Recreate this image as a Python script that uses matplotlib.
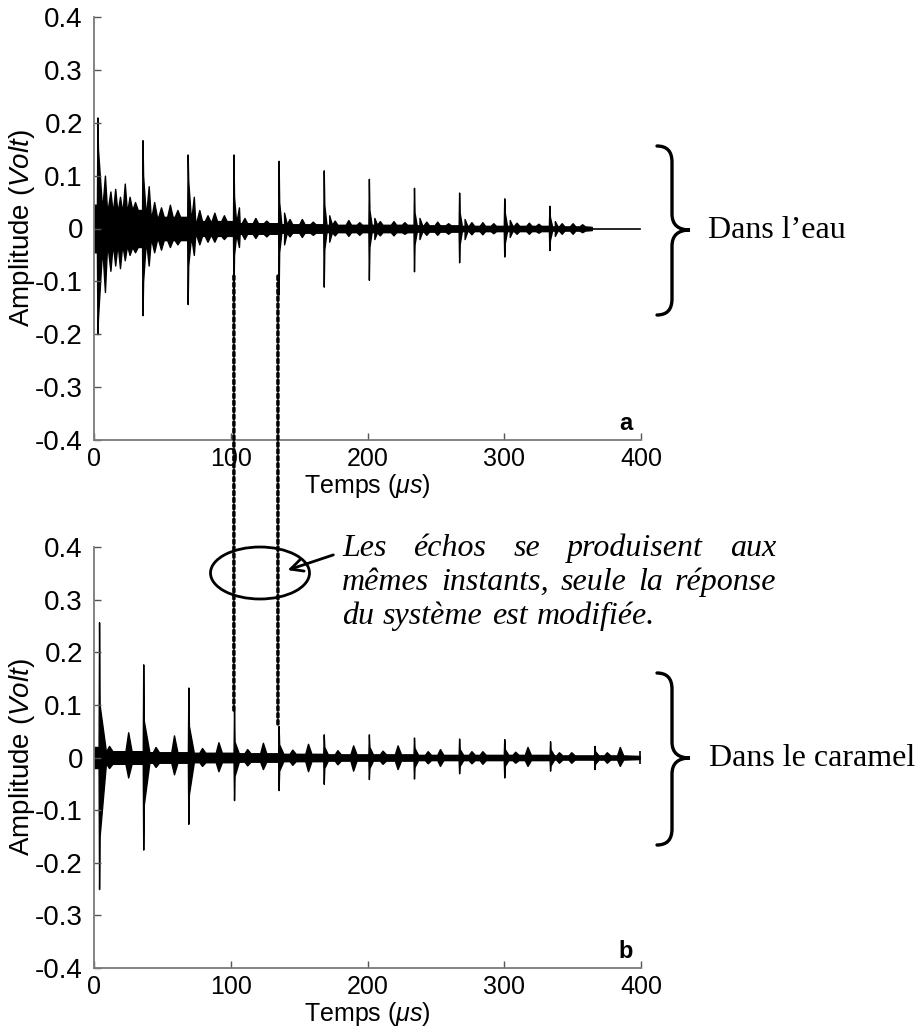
"""Echo trains of an ultrasonic probe: in water (a) and in caramel (b)."""
from bisect import bisect

import matplotlib
matplotlib.use("Agg")
import matplotlib.pyplot as plt
from matplotlib.patches import ConnectionPatch, Ellipse, FancyArrowPatch, PathPatch
from matplotlib.path import Path

plt.rcParams["font.family"] = ["Liberation Sans", "DejaVu Sans"]
plt.rcParams["axes.unicode_minus"] = False
plt.rcParams["mathtext.fontset"] = "custom"
plt.rcParams["mathtext.rm"] = "Liberation Sans"
plt.rcParams["mathtext.it"] = "Liberation Sans:italic"

# ---------------------------------------------------------------------------
# Data (time in us, amplitude in V)
# ---------------------------------------------------------------------------
# (a) water: main echoes
top_echo_t = [2.5, 35.5, 68.5, 102, 135, 168, 201, 234, 267, 300, 333]
top_echo_hi = [0.21, 0.167, 0.14, 0.14, 0.128, 0.11, 0.094, 0.077, 0.068, 0.057, 0.043]
top_echo_lo = [-0.20, -0.164, -0.143, -0.13, -0.125, -0.11, -0.097, -0.081, -0.064, -0.053, -0.041]
top_tail_hi = [0.15, 0.10, 0.09, 0.06, 0.05, 0.045, 0.035, 0.03, 0.03, 0.03, 0.022]
top_tail_lo = [-0.17, -0.10, -0.07, -0.05, -0.045, -0.04, -0.035, -0.03, -0.03, -0.028, -0.022]
top_tail_len = [7, 6, 5.5, 4.5, 4, 4, 4, 4, 4, 4, 4]
top_noise = [0.035, 0.022, 0.014, 0.01, 0.008, 0.007, 0.007, 0.006, 0.005, 0.005, 0.004]
top_start_noise = 0.045
# (a) water: ripples between echoes
top_ripple_t = [8, 12, 15.5, 19, 22.5, 26, 30,
                40, 44, 49, 55.5, 61,
                73, 77, 83, 88, 95,
                106, 110, 118, 126, 139, 143, 152, 160, 172, 176, 186, 194,
                205, 209, 219, 227, 238, 243, 251, 259, 271, 276, 284, 292,
                304, 309, 318, 325, 337, 342, 350, 357]
top_ripple_hi = [0.10, 0.07, 0.075, 0.06, 0.085, 0.06, 0.05,
                 0.08, 0.05, 0.04, 0.045, 0.035,
                 0.06, 0.035, 0.025, 0.03, 0.025,
                 0.04, 0.02, 0.02, 0.015, 0.03, 0.018, 0.018, 0.013, 0.025, 0.015, 0.016, 0.012,
                 0.02, 0.014, 0.014, 0.012, 0.02, 0.013, 0.013, 0.01, 0.018, 0.012, 0.012, 0.01,
                 0.016, 0.011, 0.011, 0.009, 0.014, 0.01, 0.01, 0.008]
top_ripple_lo = [-0.12, -0.08, -0.07, -0.075, -0.06, -0.05, -0.045,
                 -0.07, -0.045, -0.04, -0.035, -0.03,
                 -0.05, -0.03, -0.025, -0.025, -0.02,
                 -0.035, -0.02, -0.018, -0.015, -0.03, -0.015, -0.016, -0.012, -0.025, -0.013, -0.014, -0.012,
                 -0.02, -0.013, -0.013, -0.01, -0.02, -0.012, -0.012, -0.01, -0.02, -0.011, -0.011, -0.009,
                 -0.016, -0.01, -0.01, -0.008, -0.014, -0.01, -0.01, -0.007]
top_signal_end = 364
top_record_end = 399

# (b) caramel: main echoes
bot_echo_t = [3.7, 36, 69, 102.4, 135, 168, 201, 234, 267, 300, 333.5, 366]
bot_echo_hi = [0.257, 0.177, 0.133, 0.09, 0.06, 0.044, 0.044, 0.038, 0.036, 0.035, 0.031, 0.022]
bot_echo_lo = [-0.25, -0.175, -0.126, -0.081, -0.062, -0.05, -0.041, -0.04, -0.03, -0.038, -0.025, -0.022]
bot_tail_hi = [0.10, 0.07, 0.06, 0.03, 0.025, 0.02, 0.02, 0.018, 0.016, 0.016, 0.015, 0.012]
bot_tail_lo = [-0.15, -0.09, -0.07, -0.035, -0.025, -0.02, -0.02, -0.018, -0.016, -0.016, -0.015, -0.012]
bot_tail_len = [5, 4.5, 4, 3.5, 3.5, 3, 3, 3, 3, 3, 3, 3]
bot_noise = [0.012, 0.01, 0.009, 0.008, 0.007, 0.006, 0.006, 0.005, 0.005, 0.005, 0.004, 0.004]
bot_start_noise = 0.02
# (b) caramel: secondary bursts and small lumps
bot_burst_t = [11, 25, 45, 58.5, 79, 91, 112, 123.5, 145, 156.5, 178, 189.5,
               211, 222, 244, 253, 276, 284, 308, 317, 340, 349, 375, 384.5]
bot_burst_hi = [0.022, 0.048, 0.02, 0.042, 0.018, 0.029, 0.016, 0.028, 0.015, 0.026, 0.014, 0.023,
                0.013, 0.023, 0.012, 0.016, 0.012, 0.012, 0.011, 0.02, 0.01, 0.01, 0.01, 0.02]
bot_burst_lo = [-0.02, -0.038, -0.018, -0.032, -0.016, -0.026, -0.015, -0.022, -0.014, -0.026, -0.013, -0.025,
                -0.012, -0.022, -0.011, -0.016, -0.011, -0.012, -0.01, -0.016, -0.01, -0.01, -0.01, -0.016]
bot_signal_end = 399

# dotted links between the two records
link_t = [102.3, 134.5]
link_top_y = [-0.09, -0.09]
link_bot_y = [0.09, 0.06]

y_ticks = [-0.4, -0.3, -0.2, -0.1, 0, 0.1, 0.2, 0.3, 0.4]
y_labels = ["-0.4", "-0.3", "-0.2", "-0.1", "0", "0.1", "0.2", "0.3", "0.4"]
x_ticks = [0, 100, 200, 300, 400]

note_lines = ["Les échos se produisent aux",
              "mêmes instants, seule la réponse",
              "du système est modifiée."]

# ---------------------------------------------------------------------------
W, H = 921, 1032
fig = plt.figure(figsize=(W / 100, H / 100), dpi=100)


def fx(px):
    return px / W


def fy(py):
    return 1 - py / H


def envelope(echo_t, echo_hi, echo_lo, tail_hi, tail_lo, tail_len, noise, start,
             extra_t, extra_hi, extra_lo, extra_w, sig_end):
    verts = [(0.0, start, -start)]
    for i, t0 in enumerate(echo_t):
        before = noise[i - 1] if i else start
        verts += [(t0 - 0.35, before, -before),
                  (t0, echo_hi[i], echo_lo[i]),
                  (t0 + 0.4, tail_hi[i], tail_lo[i]),
                  (t0 + tail_len[i], noise[i], -noise[i])]
    for tb, bh, bl in zip(extra_t, extra_hi, extra_lo):
        k = bisect(echo_t, tb) - 1
        lvl = noise[k] if k >= 0 else start
        verts += [(tb - extra_w[0], lvl, -lvl), (tb, bh, bl), (tb + extra_w[1], lvl, -lvl)]
    verts.append((sig_end, 0.003, -0.003))
    verts.sort()
    return [v[0] for v in verts], [v[1] for v in verts], [v[2] for v in verts]


def style_axes(ax, tag):
    ax.set_xlim(0, 400)
    ax.set_ylim(-0.4, 0.4)
    ax.set_xticks(x_ticks)
    ax.set_xticklabels([str(v) for v in x_ticks])
    ax.set_yticks(y_ticks)
    ax.set_yticklabels(y_labels)
    for side in ("top", "right"):
        ax.spines[side].set_visible(False)
    for side in ("left", "bottom"):
        ax.spines[side].set_color("#7a7a7a")
        ax.spines[side].set_linewidth(1.3)
    ax.tick_params(direction="in", length=5, width=1, color="#555555")
    ax.tick_params(axis="y", pad=8, labelsize=20)
    ax.tick_params(axis="x", pad=5, labelsize=18)
    ax.set_xlabel(r"Temps ($\mathit{\mu s}$)", fontsize=18)
    ax.set_ylabel(r"Amplitude ($\mathit{Volt}$)", fontsize=20)
    ax.xaxis.set_label_coords(0.5, -0.075)
    ax.yaxis.set_label_coords(-0.104, 0.5)
    ax.text(389, -0.368, tag, fontsize=17, fontweight="bold",
            ha="center", va="center")


ax_top = fig.add_axes([fx(94), fy(440), fx(641) - fx(94), (440 - 17) / H])
ax_bot = fig.add_axes([fx(94), fy(968), fx(641) - fx(94), (968 - 547) / H])

t, hi, lo = envelope(top_echo_t, top_echo_hi, top_echo_lo, top_tail_hi, top_tail_lo,
                     top_tail_len, top_noise, top_start_noise,
                     top_ripple_t, top_ripple_hi, top_ripple_lo, (2.0, 2.0),
                     top_signal_end)
ax_top.fill_between(t, lo, hi, facecolor="k", edgecolor="k", linewidth=1.0)
ax_top.plot([top_signal_end, top_record_end], [0, 0], color="k", lw=1.2)
style_axes(ax_top, "a")

t, hi, lo = envelope(bot_echo_t, bot_echo_hi, bot_echo_lo, bot_tail_hi, bot_tail_lo,
                     bot_tail_len, bot_noise, bot_start_noise,
                     bot_burst_t, bot_burst_hi, bot_burst_lo, (2.0, 2.5),
                     bot_signal_end)
ax_bot.fill_between(t, lo, hi, facecolor="k", edgecolor="k", linewidth=1.0)
ax_bot.vlines(bot_signal_end, -0.012, 0.012, color="k", lw=1.2)
style_axes(ax_bot, "b")

# dotted links
for tl, ya, yb in zip(link_t, link_top_y, link_bot_y):
    con = ConnectionPatch(xyA=(tl, ya), coordsA=ax_top.transData,
                          xyB=(tl, yb), coordsB=ax_bot.transData,
                          color="k", lw=2.5, linestyle=(0, (1, 1)))
    fig.add_artist(con)

# ellipse + arrow
fig.add_artist(Ellipse((fx(260), fy(573)), fx(99), 52 / H,
                       transform=fig.transFigure, fill=False, lw=2, color="k"))
fig.add_artist(FancyArrowPatch((fx(336), fy(554)), (fx(285), fy(571)),
                               transform=fig.transFigure, arrowstyle="->",
                               mutation_scale=22, lw=2, color="k"))

# justified italic note
renderer = fig.canvas.get_renderer()
note_left, note_right = 342, 776
note_base = [556, 590, 624]
note_font = dict(family="Liberation Serif", style="italic", fontsize=23)
for k, line in enumerate(note_lines):
    words = line.split()
    arts = [fig.text(0, fy(note_base[k]), w, va="baseline", **note_font) for w in words]
    widths = [a.get_window_extent(renderer).width for a in arts]
    if k < len(note_lines) - 1:
        gap = (note_right - note_left - sum(widths)) / (len(words) - 1)
    else:
        gap = 9
    x = note_left
    for a, w in zip(arts, widths):
        a.set_x(fx(x))
        x += w + gap


# curly braces + labels
def brace(y_top, y_mid, y_bot, x_l=657, x_m=672, x_t=690):
    pts = [(x_l, y_top), (x_m, y_top), (x_m, y_top + 16),
           (x_m, y_mid - 16), (x_m, y_mid), (x_t, y_mid),
           (x_m, y_mid), (x_m, y_mid + 16),
           (x_m, y_bot - 16), (x_m, y_bot), (x_l, y_bot)]
    codes = [Path.MOVETO, Path.CURVE3, Path.CURVE3, Path.LINETO,
             Path.CURVE3, Path.CURVE3, Path.CURVE3, Path.CURVE3,
             Path.LINETO, Path.CURVE3, Path.CURVE3]
    path = Path([(fx(a), fy(b)) for a, b in pts], codes)
    fig.add_artist(PathPatch(path, transform=fig.transFigure, fill=False,
                             lw=2.4, color="k", capstyle="round"))


brace(146, 230, 315)
brace(673, 758, 845)
fig.text(fx(708), fy(230), "Dans l\u2019eau", family="Liberation Serif",
         fontsize=23, va="center")
fig.text(fx(709), fy(758), "Dans le caramel", family="Liberation Serif",
         fontsize=23, va="center")

fig.savefig("out.png", dpi=100)
